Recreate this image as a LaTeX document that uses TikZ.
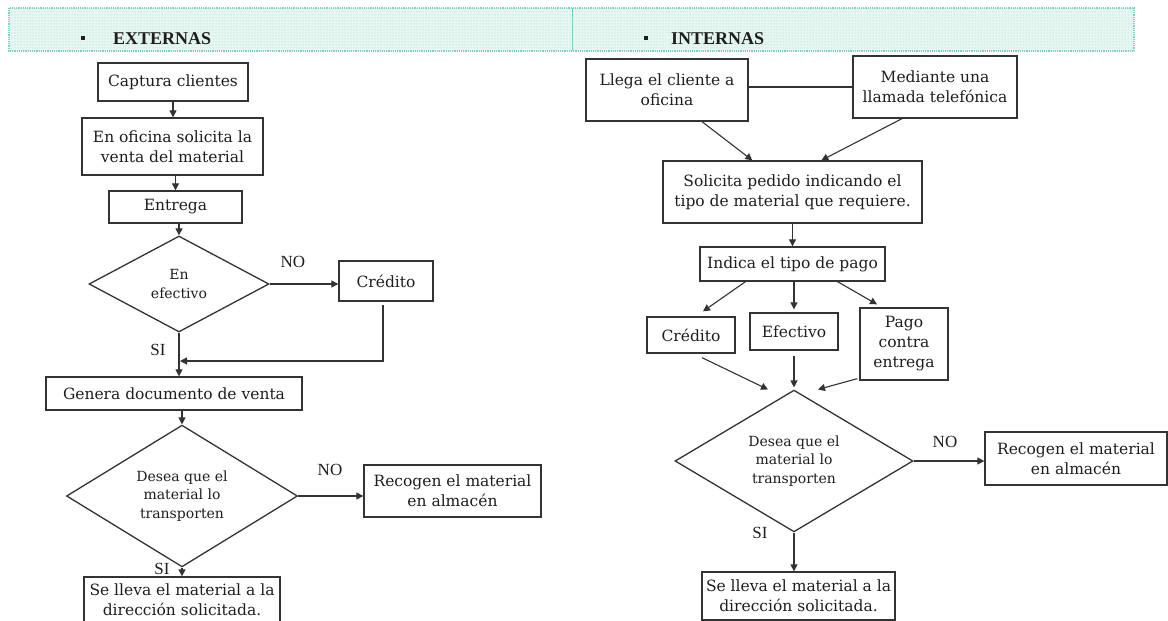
\documentclass[tikz,border=0pt]{standalone}
\usepackage{fontspec}
\setmainfont{DejaVu Serif}
\newfontfamily\headfont{Liberation Serif}
\usetikzlibrary{arrows.meta,shapes.geometric,patterns,calc}

\definecolor{ink}{HTML}{1E1E1E}
\definecolor{linegray}{HTML}{333333}
\definecolor{mint}{HTML}{E8F7F2}
\definecolor{mintdot}{HTML}{8ED2C4}
\definecolor{mintedge}{HTML}{7FCFBF}

\begin{document}
\begin{tikzpicture}[x=1pt,y=-1pt,
  box/.style={draw=linegray, line width=1.3pt, text=ink, align=center,
    inner sep=0pt, font=\fontsize{15.5}{20}\selectfont},
  dec/.style={diamond, draw=linegray, line width=1.3pt, text=ink, align=center,
    inner sep=0pt, font=\fontsize{14}{18.5}\selectfont},
  lab/.style={text=ink, inner sep=0pt, font=\headfont\fontsize{17}{17}\selectfont},
  title/.style={text=ink, inner sep=0pt, anchor=base west,
    font=\headfont\bfseries\fontsize{18}{18}\selectfont},
  bulletmark/.style={fill=ink, inner sep=0pt, minimum size=4.5pt},
  flow/.style={draw=linegray, line width=1.1pt, -{Triangle[length=7pt,width=7pt]}},
  link/.style={draw=linegray, line width=1.1pt},
]
\useasboundingbox (0,0) rectangle (1168,621);
\fill[white] (0,0) rectangle (1168,621);

% heading band
\fill[mint] (9,8) rectangle (1134,51);
\fill[pattern=dots, pattern color=mintdot] (9,8) rectangle (1134,51);
\draw[mintedge, densely dotted, line width=1.2pt] (9,8) rectangle (1134,51);
\draw[mintedge, line width=0.9pt] (572,8) -- (572,51);
\node[bulletmark] (b1) at (83,38) {};
\node[title] (hext) at (113,44) {EXTERNAS};
\node[bulletmark] (b2) at (646,38) {};
\node[title] (hint) at (671,44) {INTERNAS};

% ---------- external sales ----------
\node[box, minimum width=150pt, minimum height=38pt] (cap) at (173,82) {Captura clientes};
\node[box, minimum width=181pt, minimum height=57pt] (ofi) at (172.5,146.5) {En oficina solicita la\\venta del material};
\node[box, minimum width=133pt, minimum height=32pt] (ent) at (175.5,207) {Entrega};
\node[dec, minimum width=180pt, minimum height=96pt] (d1) at (179,284) {En\\efectivo};
\node[box, minimum width=94pt, minimum height=40pt] (cred1) at (386,281) {Crédito};
\node[box, minimum width=256pt, minimum height=33pt] (gen) at (174,393.5) {Genera documento de venta};
\node[dec, minimum width=231pt, minimum height=130pt] (d2) at (182,496) {Desea que el\\material lo\\transporten};
\node[box, minimum width=177pt, minimum height=52pt] (rec1) at (452.5,491) {Recogen el material\\en almacén};
\node[box, minimum width=196pt, minimum height=46pt] (sel1) at (182,600) {Se lleva el material a la\\dirección solicitada.};

\node[lab] (no1) at (293,262) {NO};
\node[lab] (si1) at (158,350) {SI};
\node[lab] (no2) at (330,470) {NO};
\node[lab] (si2) at (162,569) {SI};

\coordinate (lp) at (383,305);
\coordinate (j1) at (180,361);

\draw[flow] (cap.south) -- (cap.south |- ofi.north);
\draw[flow] (ent.north |- ofi.south) -- (ent.north);
\draw[flow] (d1.north |- ent.south) -- (d1.north);
\draw[flow] (d1.east) -- (d1.east -| cred1.west);
\draw[flow] (lp) |- (j1);
\draw[flow] (d1.south) -- (d1.south |- gen.north);
\draw[flow] (d2.north |- gen.south) -- (d2.north);
\draw[flow] (d2.east) -- (d2.east -| rec1.west);
\draw[flow] (d2.south) -- (d2.south |- sel1.north);

% ---------- internal sales ----------
\node[box, minimum width=162pt, minimum height=62pt] (llega) at (667,90) {Llega el cliente a\\oficina};
\node[box, minimum width=164pt, minimum height=62pt] (med) at (935,87) {Mediante una\\llamada telefónica};
\node[box, minimum width=259pt, minimum height=62pt] (sol) at (792.5,192) {Solicita pedido indicando el\\tipo de material que requiere.};
\node[box, minimum width=185pt, minimum height=34pt] (ind) at (792.5,264) {Indica el tipo de pago};
\node[box, minimum width=88pt, minimum height=36pt] (cred2) at (691,335) {Crédito};
\node[box, minimum width=88pt, minimum height=37pt] (efe) at (794,331.5) {Efectivo};
\node[box, minimum width=88pt, minimum height=72pt] (pago) at (904,344) {Pago\\contra\\entrega};
\node[dec, minimum width=238pt, minimum height=130pt] (d3) at (794,461) {Desea que el\\material lo\\transporten};
\node[box, minimum width=182pt, minimum height=53pt] (rec2) at (1076,458.5) {Recogen el material\\en almacén};
\node[box, minimum width=193pt, minimum height=48pt] (sel2) at (798.5,596) {Se lleva el material a la\\dirección solicitada.};

\node[lab] (no3) at (945,442) {NO};
\node[lab] (si3) at (760,533) {SI};

\draw[link] (med.west) -- (med.west -| llega.east);
\draw[flow] ($(llega.south)+(35,0)$) -- ($(sol.north west)+(90,0)$);
\draw[flow] ($(med.south)+(-33,0)$) -- ($(sol.north west)+(159,0)$);
\draw[flow] (ind.north |- sol.south) -- (ind.north);
\draw[flow] ($(ind.south)+(-47,0)$) -- ($(cred2.north)+(12,-5)$);
\draw[flow] (efe.north |- ind.south) -- ($(efe.north)+(0,-3)$);
\draw[flow] ($(ind.south)+(45,0)$) -- ($(pago.north)+(-27,-3)$);
\draw[flow] ($(cred2.south)+(11,4)$) -- ($(d3.north)+(-26,0)$);
\draw[flow] ($(efe.south)+(0,5)$) -- ($(d3.north)+(0,-2)$);
\draw[flow] ($(pago.south west)+(-2,-2)$) -- ($(d3.north)+(24,0)$);
\draw[flow] (d3.east) -- (d3.east -| rec2.west);
\draw[flow] (d3.south) -- (d3.south |- sel2.north);
\end{tikzpicture}
\end{document}
